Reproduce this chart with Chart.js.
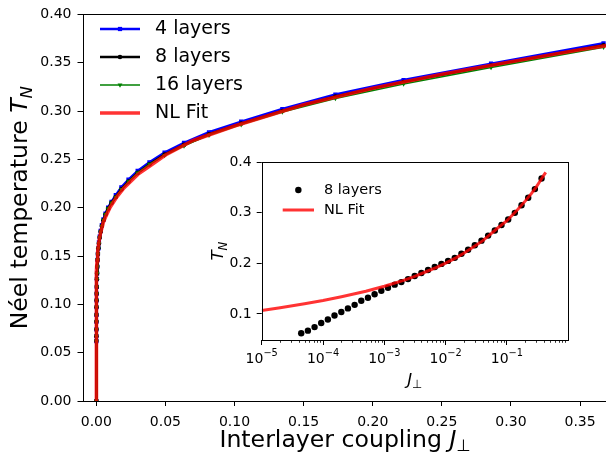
<!DOCTYPE html>
<html><head><meta charset="utf-8">
<script src="https://cdn.jsdelivr.net/npm/chart.js@4.4.1/dist/chart.umd.min.js"></script>
<style>
html,body{margin:0;padding:0;background:#fff;overflow:hidden;width:606px;height:454px;}
#main{position:absolute;left:0;top:0;}
#inset{position:absolute;left:200px;top:148px;}
</style></head><body>
<canvas id="main" width="620" height="454" style="width:620px;height:454px"></canvas>
<canvas id="inset" width="380" height="250" style="width:380px;height:250px"></canvas>
<script>
// ---------- data ----------
const seriesLabels = ['4 layers', '8 layers', '16 layers', 'NL Fit'];
const J = [0, 0.0000441, 0.0000567, 0.0000728, 0.0000935, 0.000120, 0.000154, 0.000199, 0.000255,
  0.000328, 0.000421, 0.000541, 0.000695, 0.000894, 0.001148, 0.001476, 0.001896, 0.002437,
  0.003131, 0.004024, 0.005170, 0.006644, 0.008537, 0.01097, 0.01409, 0.01811, 0.02327,
  0.02991, 0.03843, 0.04938, 0.06345, 0.08153, 0.1048, 0.1346, 0.1730, 0.2223, 0.2856, 0.367];
const T4 = [0, 0.062, 0.067, 0.074, 0.082, 0.089, 0.097, 0.104, 0.111, 0.118, 0.126, 0.132, 0.139,
  0.146, 0.152, 0.158, 0.164, 0.170, 0.176, 0.182, 0.188, 0.194, 0.200, 0.206, 0.213, 0.221, 0.229,
  0.238, 0.247, 0.257, 0.267, 0.278, 0.289, 0.302, 0.317, 0.332, 0.349, 0.370];
const T8 = [0, 0.062, 0.067, 0.074, 0.082, 0.089, 0.097, 0.104, 0.111, 0.118, 0.126, 0.132, 0.139,
  0.146, 0.152, 0.158, 0.163, 0.169, 0.175, 0.181, 0.187, 0.193, 0.199, 0.205, 0.211, 0.219, 0.227,
  0.236, 0.245, 0.255, 0.265, 0.276, 0.287, 0.300, 0.315, 0.330, 0.347, 0.368];
const T16 = [0, 0.062, 0.067, 0.074, 0.082, 0.089, 0.097, 0.104, 0.111, 0.118, 0.126, 0.132, 0.139,
  0.146, 0.152, 0.158, 0.163, 0.169, 0.175, 0.181, 0.187, 0.193, 0.199, 0.205, 0.211, 0.219, 0.227,
  0.236, 0.245, 0.254, 0.264, 0.275, 0.286, 0.299, 0.313, 0.328, 0.345, 0.366];
const fitJ = [0, 1e-5, 2e-5, 5e-5, 1e-4, 2e-4, 5e-4, 1e-3, 2e-3, 3e-3, 5e-3, 7e-3, 1e-2, 1.5e-2,
  2e-2, 3e-2, 4e-2, 5e-2, 7e-2, 0.1, 0.15, 0.2, 0.25, 0.3, 0.35, 0.4, 0.43];
const fitT = [0, 0.107, 0.1125, 0.120, 0.1265, 0.134, 0.145, 0.1548, 0.166, 0.1735, 0.1845, 0.1915,
  0.2005, 0.2115, 0.2205, 0.2345, 0.2445, 0.2545, 0.2695, 0.2845, 0.3065, 0.3237, 0.338, 0.351,
  0.3635, 0.3745, 0.380];

const mainXTicks = [0, 0.05, 0.10, 0.15, 0.20, 0.25, 0.30, 0.35];
const mainXTickLabels = ['0.00', '0.05', '0.10', '0.15', '0.20', '0.25', '0.30', '0.35'];
const mainYTicks = [0, 0.05, 0.10, 0.15, 0.20, 0.25, 0.30, 0.35, 0.40];
const mainYTickLabels = ['0.00', '0.05', '0.10', '0.15', '0.20', '0.25', '0.30', '0.35', '0.40'];
const insetXTicks = [1e-5, 1e-4, 1e-3, 1e-2, 1e-1];
const insetXTickExponents = ['\u22125', '\u22124', '\u22123', '\u22122', '\u22121'];
const insetXMinorTicks = [2e-5,3e-5,4e-5,5e-5,6e-5,7e-5,8e-5,9e-5, 2e-4,3e-4,4e-4,5e-4,6e-4,7e-4,8e-4,9e-4,
  2e-3,3e-3,4e-3,5e-3,6e-3,7e-3,8e-3,9e-3, 2e-2,3e-2,4e-2,5e-2,6e-2,7e-2,8e-2,9e-2,
  0.2,0.3,0.4,0.5,0.6,0.7,0.8,0.9];
const insetYTicks = [0.1, 0.2, 0.3, 0.4];
const insetYTickLabels = ['0.1', '0.2', '0.3', '0.4'];

// ---------- helpers ----------
const FAM = "'DejaVu Sans', sans-serif";
const pts = (xs, ys) => xs.map((x, i) => ({x: x, y: ys[i]}));
const posPts = (xs, ys) => pts(xs, ys).filter(p => p.x > 0);
const BLUE = '#0000ff', BLACK = '#000000', GREEN = '#008000', RED = 'rgba(255,0,0,0.8)';

function drawRich(ctx, parts, x, y, rotate) {
  ctx.save();
  ctx.translate(x, y);
  if (rotate) ctx.rotate(-Math.PI / 2);
  let total = 0;
  parts.forEach(p => { ctx.font = p.font; p.w = ctx.measureText(p.t).width; total += p.w; });
  let cx = -total / 2;
  ctx.textBaseline = 'alphabetic'; ctx.textAlign = 'left'; ctx.fillStyle = '#000';
  parts.forEach(p => { ctx.font = p.font; ctx.fillText(p.t, cx, p.dy || 0); cx += p.w; });
  ctx.restore();
}
function frame(ctx, a) {
  ctx.save();
  ctx.strokeStyle = '#000'; ctx.lineWidth = 1;
  ctx.strokeRect(Math.round(a.left) + 0.5, Math.round(a.top) + 0.5,
                 Math.round(a.right) - Math.round(a.left), Math.round(a.bottom) - Math.round(a.top));
  ctx.restore();
}
function legendItem(ctx, x0, x1, y, color, lw, style, r, rot, label, font, tx, showLine) {
  ctx.save();
  if (showLine) {
    ctx.strokeStyle = color; ctx.lineWidth = lw; ctx.beginPath();
    ctx.moveTo(x0, y); ctx.lineTo(x1, y); ctx.stroke();
  }
  if (style) {
    ctx.fillStyle = color; ctx.strokeStyle = color;
    Chart.helpers.drawPoint(ctx, {pointStyle: style, radius: r, rotation: rot || 0, borderWidth: 0}, (x0 + x1) / 2, y);
  }
  ctx.fillStyle = '#000'; ctx.font = font; ctx.textBaseline = 'middle'; ctx.textAlign = 'left';
  ctx.fillText(label, tx, y);
  ctx.restore();
}

const tickFont = {family: FAM, size: 14};

// ---------- main chart ----------
const mainPlugin = {
  id: 'mainDeco',
  afterDatasetsDraw(chart) {
    const ctx = chart.ctx, a = chart.chartArea;
    frame(ctx, a);
    const lf = "19px " + FAM;
    legendItem(ctx, 100, 140, 29, BLUE, 2.6, 'rect', 3, 0, seriesLabels[0], lf, 155, true);
    legendItem(ctx, 100, 140, 57, BLACK, 2.6, 'circle', 2.3, 0, seriesLabels[1], lf, 155, true);
    legendItem(ctx, 100, 140, 85, GREEN, 1.4, 'triangle', 2.8, 180, seriesLabels[2], lf, 155, true);
    legendItem(ctx, 100, 140, 113, RED, 3.6, null, 0, 0, seriesLabels[3], lf, 155, true);
  },
  afterDraw(chart) {
    const ctx = chart.ctx, a = chart.chartArea;
    const fs = 23.6;
    drawRich(ctx, [
      {t: 'Interlayer coupling ', font: fs + 'px ' + FAM},
      {t: 'J', font: 'italic ' + fs + 'px ' + FAM},
      {t: '\u22A5', font: (fs * 0.7).toFixed(1) + 'px ' + FAM, dy: 4}
    ], (a.left + a.right) / 2, 447, false);
    drawRich(ctx, [
      {t: 'N\u00e9el temperature ', font: fs + 'px ' + FAM},
      {t: 'T', font: 'italic ' + fs + 'px ' + FAM},
      {t: 'N', font: 'italic ' + (fs * 0.7).toFixed(1) + 'px ' + FAM, dy: 5}
    ], 27, (a.top + a.bottom) / 2, true);
  }
};

new Chart(document.getElementById('main'), {
  type: 'scatter',
  data: {
    datasets: [
      {label: seriesLabels[0], data: pts(J, T4), showLine: true, borderColor: BLUE, backgroundColor: BLUE,
       borderWidth: 2.6, pointStyle: 'rect', pointRadius: 3, pointBorderWidth: 0, order: 4},
      {label: seriesLabels[1], data: pts(J, T8), showLine: true, borderColor: BLACK, backgroundColor: BLACK,
       borderWidth: 2.6, pointStyle: 'circle', pointRadius: 2.3, pointBorderWidth: 0, order: 3},
      {label: seriesLabels[2], data: pts(J, T16), showLine: true, borderColor: GREEN, backgroundColor: GREEN,
       borderWidth: 1.4, pointStyle: 'triangle', pointRotation: 180, pointRadius: 2.8, pointBorderWidth: 0, order: 2},
      {label: seriesLabels[3], data: pts(fitJ, fitT), showLine: true, borderColor: RED, backgroundColor: RED,
       borderWidth: 3.6, pointRadius: 0, order: 1}
    ]
  },
  options: {
    responsive: false, animation: false, devicePixelRatio: 1,
    layout: {padding: {top: 10, right: 12.3, left: 0, bottom: 0}},
    plugins: {legend: {display: false}, tooltip: {enabled: false}},
    elements: {line: {tension: 0}},
    scales: {
      x: {
        type: 'linear', min: -0.01, max: 0.37,
        afterFit: s => { s.height = 53; },
        afterBuildTicks: s => { s.ticks = mainXTicks.map(v => ({value: v})); },
        ticks: {callback: (v, i) => mainXTickLabels[i], font: tickFont, color: '#000', padding: 8,
                maxRotation: 0, autoSkip: false},
        grid: {drawOnChartArea: false, drawTicks: true, tickLength: 5, tickColor: '#000', tickWidth: 1},
        border: {display: false}
      },
      y: {
        type: 'linear', min: 0, max: 0.40,
        afterFit: s => { s.width = 82.5; },
        afterBuildTicks: s => { s.ticks = mainYTicks.map(v => ({value: v})); },
        ticks: {callback: (v, i) => mainYTickLabels[i], font: tickFont, color: '#000', padding: 6, autoSkip: false},
        grid: {drawOnChartArea: false, drawTicks: true, tickLength: 5, tickColor: '#000', tickWidth: 1},
        border: {display: false}
      }
    }
  },
  plugins: [mainPlugin]
});

// ---------- inset chart ----------
const insetPlugin = {
  id: 'insetDeco',
  beforeDatasetsDraw(chart) {
    const ctx = chart.ctx, a = chart.chartArea;
    ctx.save(); ctx.fillStyle = '#fff';
    ctx.fillRect(a.left, a.top, a.right - a.left, a.bottom - a.top);
    ctx.restore();
  },
  afterDatasetsDraw(chart) {
    const ctx = chart.ctx, a = chart.chartArea, xs = chart.scales.x;
    frame(ctx, a);
    ctx.save(); ctx.strokeStyle = '#000'; ctx.lineWidth = 0.8;
    insetXMinorTicks.forEach(v => {
      const px = Math.round(xs.getPixelForValue(v)) + 0.5;
      ctx.beginPath(); ctx.moveTo(px, a.bottom); ctx.lineTo(px, a.bottom + 2.8); ctx.stroke();
    });
    ctx.restore();
    // major tick labels 10^n, positioned through the log scale
    insetXTicks.forEach((v, i) => {
      const px = xs.getPixelForValue(v);
      drawRich(ctx, [
        {t: '10', font: '14px ' + FAM},
        {t: insetXTickExponents[i], font: '9.8px ' + FAM, dy: -7.3}
      ], px, a.bottom + 23, false);
    });
    const lf = "14.5px " + FAM;
    legendItem(ctx, 82.7, 114, 42, BLACK, 0, 'circle', 3.2, 0, seriesLabels[1], lf, 124, false);
    legendItem(ctx, 82.7, 114, 62, RED, 3, null, 0, 0, seriesLabels[3], lf, 124, true);
  },
  afterDraw(chart) {
    const ctx = chart.ctx, a = chart.chartArea;
    const fs = 16.7;
    drawRich(ctx, [
      {t: 'J', font: 'italic ' + fs + 'px ' + FAM},
      {t: '\u22A5', font: (fs * 0.7).toFixed(1) + 'px ' + FAM, dy: 3}
    ], (a.left + a.right) / 2, 237, false);
    drawRich(ctx, [
      {t: 'T', font: 'italic ' + fs + 'px ' + FAM},
      {t: 'N', font: 'italic ' + (fs * 0.7).toFixed(1) + 'px ' + FAM, dy: 3.5}
    ], 23, (a.top + a.bottom) / 2, true);
  }
};

new Chart(document.getElementById('inset'), {
  type: 'scatter',
  data: {
    datasets: [
      {label: seriesLabels[3], data: posPts(fitJ, fitT), showLine: true, borderColor: RED, backgroundColor: RED,
       borderWidth: 3, pointRadius: 0, order: 1},
      {label: seriesLabels[1], data: posPts(J, T8), showLine: false, backgroundColor: BLACK, borderColor: BLACK,
       pointStyle: 'circle', pointRadius: 3.2, pointBorderWidth: 0, order: 2}
    ]
  },
  options: {
    responsive: false, animation: false, devicePixelRatio: 1,
    layout: {padding: {top: 14.3, right: 12.3, left: 0, bottom: 0}},
    plugins: {legend: {display: false}, tooltip: {enabled: false}},
    scales: {
      x: {
        type: 'logarithmic', min: 1e-5, max: 0.98,
        afterFit: s => { s.height = 58; },
        afterBuildTicks: s => { s.ticks = insetXTicks.map(v => ({value: v})); },
        ticks: {display: false, autoSkip: false},
        grid: {drawOnChartArea: false, drawTicks: true, tickLength: 5, tickColor: '#000', tickWidth: 1},
        border: {display: false}
      },
      y: {
        type: 'linear', min: 0.0485, max: 0.40,
        afterFit: s => { s.width = 61.7; },
        afterBuildTicks: s => { s.ticks = insetYTicks.map(v => ({value: v})); },
        ticks: {callback: (v, i) => insetYTickLabels[i], font: tickFont, color: '#000', padding: 5, autoSkip: false},
        grid: {drawOnChartArea: false, drawTicks: true, tickLength: 5, tickColor: '#000', tickWidth: 1},
        border: {display: false}
      }
    }
  },
  plugins: [insetPlugin]
});
</script>
</body></html>
